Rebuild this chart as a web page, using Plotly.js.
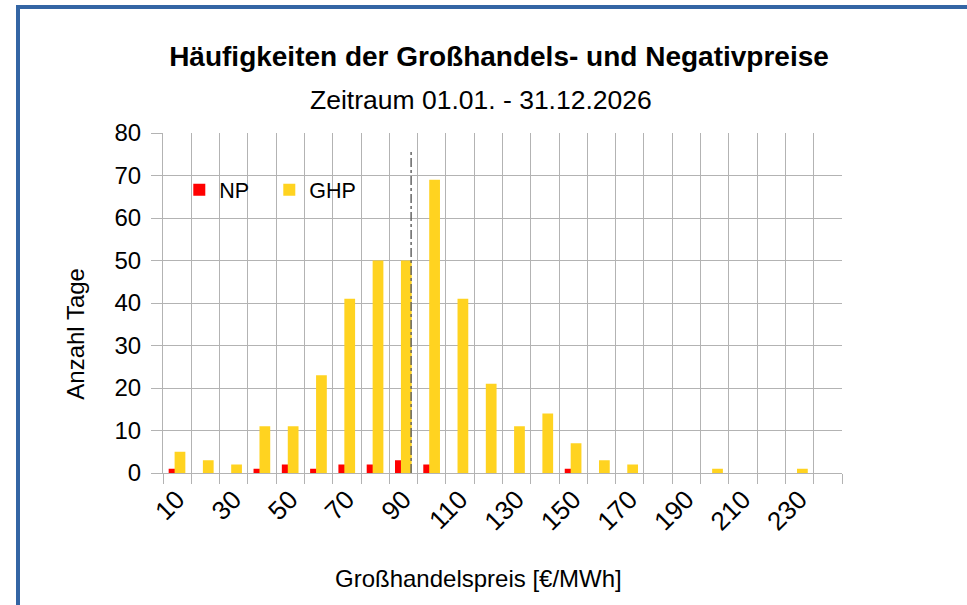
<!DOCTYPE html>
<html>
<head>
<meta charset="utf-8">
<script src="https://cdn.plot.ly/plotly-3.0.1.min.js"></script>
<style>
  html, body { margin: 0; padding: 0; background: #fff; }
  #wrap { position: relative; width: 967px; height: 605px; overflow: hidden; }
  #chart { position: absolute; left: 0; top: 0; width: 967px; height: 605px; }
  #frame { position: absolute; left: 16px; top: 5px; width: 1000px; height: 700px;
           border-left: 4px solid #3465a4; border-top: 4px solid #3465a4; pointer-events: none; }
</style>
</head>
<body>
<div id="wrap">
  <div id="chart"></div>
  <div id="frame"></div>
</div>
<script>
// Price classes (€/MWh), upper bounds of 10 €/MWh bins
const categories = [10,20,30,40,50,60,70,80,90,100,110,120,130,140,150,160,170,180,190,200,210,220,230,240];
// Number of days with negative prices (NP) per class
const npCounts  = [1,0,0,1,2,1,2,2,3,2,0,0,0,0,1,0,0,0,0,0,0,0,0,0];
// Number of days with wholesale price (GHP) per class
const ghpCounts = [5,3,2,11,11,23,41,50,50,69,41,21,11,14,7,3,2,0,0,1,0,0,1,0];
// Tick labels shown on the x axis
const tickValues = [10,30,50,70,90,110,130,150,170,190,210,230];
const tickLabels = ['10','30','50','70','90','110','130','150','170','190','210','230'];
// Average price marker line
const avgPrice = 92.7;
const avgLineTop = 75.6;

const font = 'Liberation Sans, Arial, sans-serif';

const traces = [
  {
    type: 'bar', name: 'NP', x: categories, y: npCounts,
    offset: -3.0, width: 3.8,
    marker: { color: '#ff0000' }
  },
  {
    type: 'bar', name: 'GHP', x: categories, y: ghpCounts,
    offset: -0.9, width: 3.8,
    marker: { color: '#ffd320' }
  },
  {
    type: 'scatter', mode: 'lines', x: [avgPrice, avgPrice], y: [0, avgLineTop],
    line: { color: '#666666', width: 1.5, dash: 'dashdot' },
    showlegend: false, hoverinfo: 'skip'
  }
];

const layout = {
  width: 967, height: 605,
  margin: { l: 163, r: 125, t: 133, b: 132, pad: 0 },
  paper_bgcolor: '#ffffff', plot_bgcolor: '#ffffff',
  font: { family: font, color: '#000000', size: 22 },
  barmode: 'overlay',
  showlegend: true,
  title: {
    text: '<b>Häufigkeiten der Großhandels- und Negativpreise</b>',
    font: { family: font, size: 28, color: '#000' },
    x: 0.516, xref: 'container', xanchor: 'center',
    y: 1 - 56/605, yref: 'container', yanchor: 'middle'
  },
  annotations: [
    { text: 'Zeitraum 01.01. - 31.12.2026', xref: 'paper', yref: 'paper',
      x: 0.4686, y: 1.098, xanchor: 'center', yanchor: 'middle', showarrow: false,
      font: { family: font, size: 26.5, color: '#000' } },
    { text: 'Anzahl Tage', xref: 'paper', yref: 'paper',
      x: -0.128, y: 0.41, xanchor: 'center', yanchor: 'middle', textangle: -90, showarrow: false,
      font: { family: font, size: 24, color: '#000' } },
    { text: 'Großhandelspreis [€/MWh]', xref: 'paper', yref: 'paper',
      x: 0.465, y: -0.31, xanchor: 'center', yanchor: 'middle', showarrow: false,
      font: { family: font, size: 24, color: '#000' } }
  ],
  legend: {
    orientation: 'h', x: 0.024, y: 0.833, xanchor: 'left', yanchor: 'middle',
    bgcolor: 'rgba(0,0,0,0)', font: { family: font, size: 21.5, color: '#000' },
    entrywidth: 45, itemwidth: 30, tracegroupgap: 0
  },
  xaxis: {
    type: 'linear', range: [5, 245],
    tickmode: 'array', tickvals: tickValues, ticktext: tickLabels,
    tickangle: -45, ticks: '', showgrid: false, zeroline: false,
    tickfont: { family: font, size: 26, color: '#000' },
    showline: true, linecolor: '#b3b3b3', linewidth: 1,
    minor: { tick0: 5, dtick: 10, showgrid: true, gridcolor: '#b3b3b3', gridwidth: 1,
             ticks: 'outside', ticklen: 10, tickcolor: '#b3b3b3', tickwidth: 1 }
  },
  yaxis: {
    range: [0, 80], dtick: 10, tick0: 0,
    ticks: 'outside', ticklen: 11, tickcolor: '#b3b3b3', tickwidth: 1,
    showgrid: true, gridcolor: '#b3b3b3', gridwidth: 1, zeroline: false,
    showline: true, linecolor: '#b3b3b3', linewidth: 1,
    ticklabelstandoff: 5,
    tickfont: { family: font, size: 24, color: '#000' }
  }
};

Plotly.newPlot('chart', traces, layout, { displayModeBar: false, staticPlot: true });
</script>
</body>
</html>
